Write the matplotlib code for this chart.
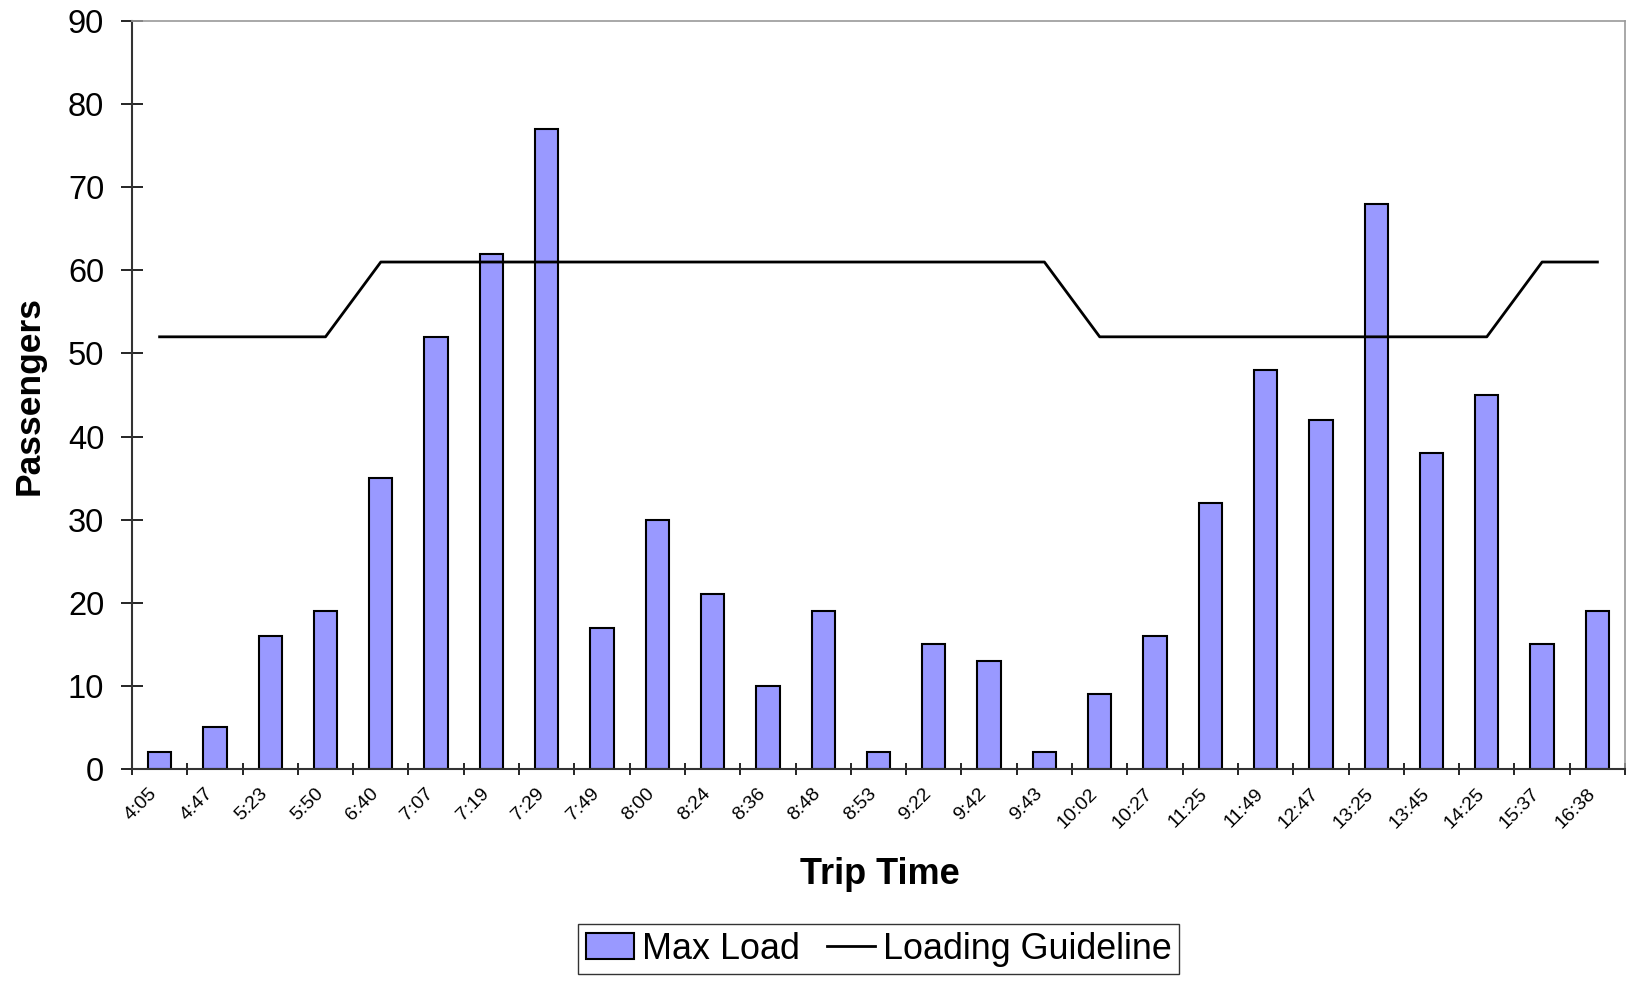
import matplotlib
matplotlib.use("Agg")
import matplotlib.pyplot as plt
from matplotlib.transforms import ScaledTranslation
import numpy as np

# trip times and max loads
trip_times = ["4:05", "4:47", "5:23", "5:50", "6:40", "7:07", "7:19", "7:29", "7:49",
              "8:00", "8:24", "8:36", "8:48", "8:53", "9:22", "9:42", "9:43", "10:02",
              "10:27", "11:25", "11:49", "12:47", "13:25", "13:45", "14:25", "15:37", "16:38"]
max_load = [2, 5, 16, 19, 35, 52, 62, 77, 17, 30, 21, 10, 19, 2, 15, 13, 2, 9,
            16, 32, 48, 42, 68, 38, 45, 15, 19]
guideline = [52, 52, 52, 52, 61, 61, 61, 61, 61, 61, 61, 61, 61, 61, 61, 61, 61, 52,
             52, 52, 52, 52, 52, 52, 52, 61, 61]

plt.rcParams['font.family'] = ['Liberation Sans', 'DejaVu Sans']

fig = plt.figure(figsize=(16.27, 9.81), dpi=100)
ax = fig.add_axes([0.0811, 0.2161, 0.9177, 0.7625])

x = np.arange(len(trip_times))
bars = ax.bar(x, max_load, width=0.42, color='#9999FF', edgecolor='black', linewidth=1.5,
              zorder=2)
line, = ax.plot(x, guideline, color='black', linewidth=2, zorder=3)

ax.set_xlim(-0.5, len(trip_times) - 0.5)
ax.set_ylim(0, 90)
ax.set_yticks(np.arange(0, 91, 10))
ax.tick_params(axis='y', direction='inout', length=16, width=1.2, labelsize=23.5, pad=12)

ax.set_xticks(x)
ax.set_xticklabels(trip_times, rotation=45, ha='right', va='top', rotation_mode='anchor',
                   fontsize=14)
ax.tick_params(axis='x', which='major', length=0, pad=11.5)
shift = ScaledTranslation(-0.11, 0, fig.dpi_scale_trans)
for lab in ax.get_xticklabels():
    lab.set_transform(lab.get_transform() + shift)
ax.set_xticks(np.arange(-0.5, len(trip_times), 1), minor=True)
ax.tick_params(axis='x', which='minor', direction='inout', length=8, width=1.2)

for s in ['left', 'bottom']:
    ax.spines[s].set_color('#333333')
    ax.spines[s].set_linewidth(1.5)
for s in ['top', 'right']:
    ax.spines[s].set_color('#999999')
    ax.spines[s].set_linewidth(1.2)

fig.text(0.0178, 0.597, 'Passengers', rotation=90, fontsize=25.5, fontweight='bold',
         ha='center', va='center')
fig.text(0.541, 0.109, 'Trip Time', fontsize=26, fontweight='bold', ha='center', va='center')

leg = fig.legend([bars, line], ['Max Load', 'Loading Guideline'], loc='center',
                 bbox_to_anchor=(0.540, 0.0326), ncol=2, fontsize=25.8,
                 frameon=True, fancybox=False, edgecolor='black', handlelength=1.35,
                 handletextpad=0.22, columnspacing=0.75, borderpad=0.22, borderaxespad=0)
leg.get_frame().set_linewidth(1.0)

fig.savefig('out.png', dpi=100)
